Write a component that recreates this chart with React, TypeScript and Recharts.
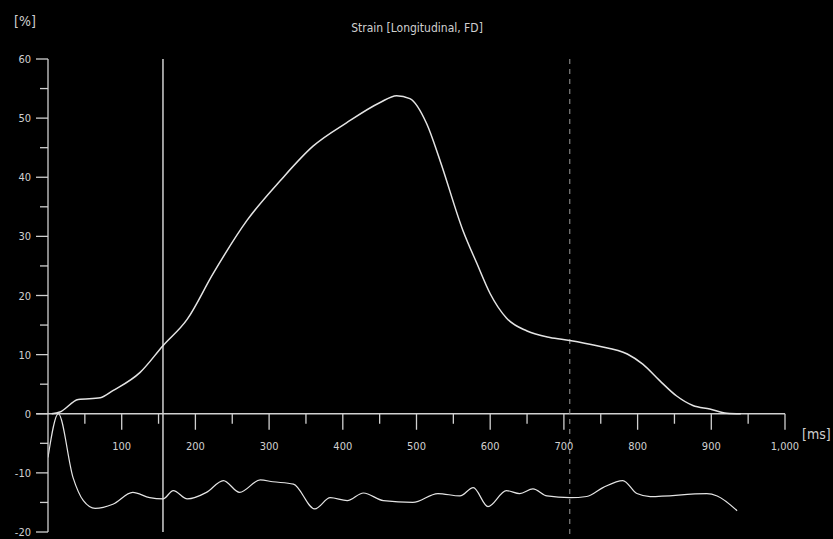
import React from "react";
import {
  LineChart,
  Line,
  XAxis,
  YAxis,
  ReferenceLine,
  ReferenceDot,
} from "recharts";

// strain curve (upper)
const strainTime = [
  5, 16, 41, 71, 88, 125, 156, 189, 224, 270, 315, 360, 405, 450, 473, 491,
  514, 532, 563, 582, 600, 622, 650, 681, 708, 745, 786, 807, 830, 853,
  875, 898, 921, 940,
];
const strainValue = [
  0, 0.3, 2.4, 2.7, 3.9, 7, 11.5, 16, 23.7, 32.7, 39.4, 45.3, 49.2, 52.6, 53.8,
  53.3, 49, 42.8, 31, 25.4, 20.3, 16.2, 14, 12.9, 12.4, 11.5, 10.1, 8.4,
  5.6, 3, 1.4, 0.8, 0.1, 0,
];

// lower noisy curve
const rateTime = [
  0, 14, 34, 48, 64, 88, 115, 138, 156, 170, 189, 215, 238, 260, 288, 305, 333,
  362, 383, 406, 428, 455, 495, 529, 559, 577, 597, 622, 640, 658, 677, 708,
  731, 753, 780, 799, 817, 894, 908, 935,
];
const rateValue = [
  -7.4, 0, -10.8, -14.7, -16, -15.3, -13.3, -14.2, -14.4, -13, -14.4, -13.3,
  -11.3, -13.3, -11.2, -11.5, -11.9, -16.1, -14.2, -14.7, -13.4, -14.7, -15,
  -13.5, -13.9, -12.5, -15.7, -13, -13.5, -12.7, -13.9, -14.2, -14, -12.5,
  -11.3, -13.5, -14, -13.5, -13.9, -16.4,
];

const yTicks = [-20, -15, -10, -5, 0, 5, 10, 15, 20, 25, 30, 35, 40, 45, 50, 55, 60];
const xMajor = [100, 200, 300, 400, 500, 600, 700, 800, 900, 1000];
const xMinor = [50, 150, 250, 350, 450, 550, 650, 750, 850, 950];

const markerSolid = 156;
const markerDashed = 708;

const strainData = strainTime.map((t, i) => ({ t, v: strainValue[i] }));
const rateData = rateTime.map((t, i) => ({ t, v: rateValue[i] }));

const AXIS = "#d0d0d0";
const LINE = "#e4e4e4";
const FONT = "'DejaVu Sans Condensed', 'DejaVu Sans', sans-serif";

const YTick = (props: any) => {
  const { x, y, payload } = props;
  const major = payload.value % 10 === 0;
  return (
    <g>
      <line x1={x - (major ? 12 : 8)} y1={y} x2={x} y2={y} stroke={AXIS} strokeWidth={1.3} />
      {major && (
        <text x={x - 17} y={y + 4} textAnchor="end" fill={AXIS} fontSize={11} fontFamily={FONT}>
          {payload.value}
        </text>
      )}
    </g>
  );
};

const xTickShape = (len: number, label?: string) => (p: any) => (
  <g>
    <line x1={p.cx} y1={p.cy} x2={p.cx} y2={p.cy + len} stroke={AXIS} strokeWidth={1.3} />
    {label && (
      <text x={p.cx} y={p.cy + 36} textAnchor="middle" fill={AXIS} fontSize={11} fontFamily={FONT}>
        {label}
      </text>
    )}
  </g>
);

export default function App() {
  return (
    <div style={{ position: "absolute", left: 0, top: 0, width: 833, height: 539, background: "#000" }}>
      <LineChart
        width={833}
        height={539}
        margin={{ top: 59, right: 48, bottom: 7, left: 0 }}
        style={{ background: "#000" }}
      >
        <text x={417} y={32} textAnchor="middle" fill={AXIS} fontSize={12} fontFamily={FONT}>
          Strain [Longitudinal, FD]
        </text>
        <text x={14} y={26} fill={AXIS} fontSize={14} fontFamily={FONT}>
          [%]
        </text>
        <text x={802} y={439} fill={AXIS} fontSize={14} fontFamily={FONT}>
          [ms]
        </text>
        <XAxis dataKey="t" type="number" domain={[0, 1000]} hide allowDataOverflow />
        <YAxis
          type="number"
          domain={[-20, 60]}
          ticks={yTicks}
          interval={0}
          width={48}
          tickSize={0}
          tickMargin={0}
          tickLine={false}
          axisLine={{ stroke: AXIS, strokeWidth: 1.3 }}
          tick={(p: any) => <YTick {...p} />}
          allowDataOverflow
        />
        <ReferenceLine
          segment={[{ x: -16, y: 0 }, { x: 1000, y: 0 }]}
          stroke={AXIS}
          strokeWidth={1.6}
          ifOverflow="visible"
        />
        {xMajor.map((t) => (
          <ReferenceDot
            key={"M" + t}
            x={t}
            y={0}
            r={0}
            ifOverflow="visible"
            shape={xTickShape(16, t.toLocaleString("en-US"))}
          />
        ))}
        {xMinor.map((t) => (
          <ReferenceDot key={"m" + t} x={t} y={0} r={0} ifOverflow="visible" shape={xTickShape(10)} />
        ))}
        <ReferenceLine x={markerSolid} stroke={AXIS} strokeWidth={1.5} />
        <ReferenceLine
          segment={[{ x: markerDashed, y: 60 }, { x: markerDashed, y: -21.3 }]}
          stroke="#9a9a9a"
          strokeWidth={1}
          strokeDasharray="5 5"
          ifOverflow="visible"
        />
        <Line
          data={strainData}
          dataKey="v"
          name="strain"
          type="monotone"
          stroke={LINE}
          strokeWidth={1.5}
          dot={false}
          isAnimationActive={false}
        />
        <Line
          data={rateData}
          dataKey="v"
          name="rate"
          type="monotone"
          stroke={LINE}
          strokeWidth={1.2}
          dot={false}
          isAnimationActive={false}
        />
      </LineChart>
    </div>
  );
}
